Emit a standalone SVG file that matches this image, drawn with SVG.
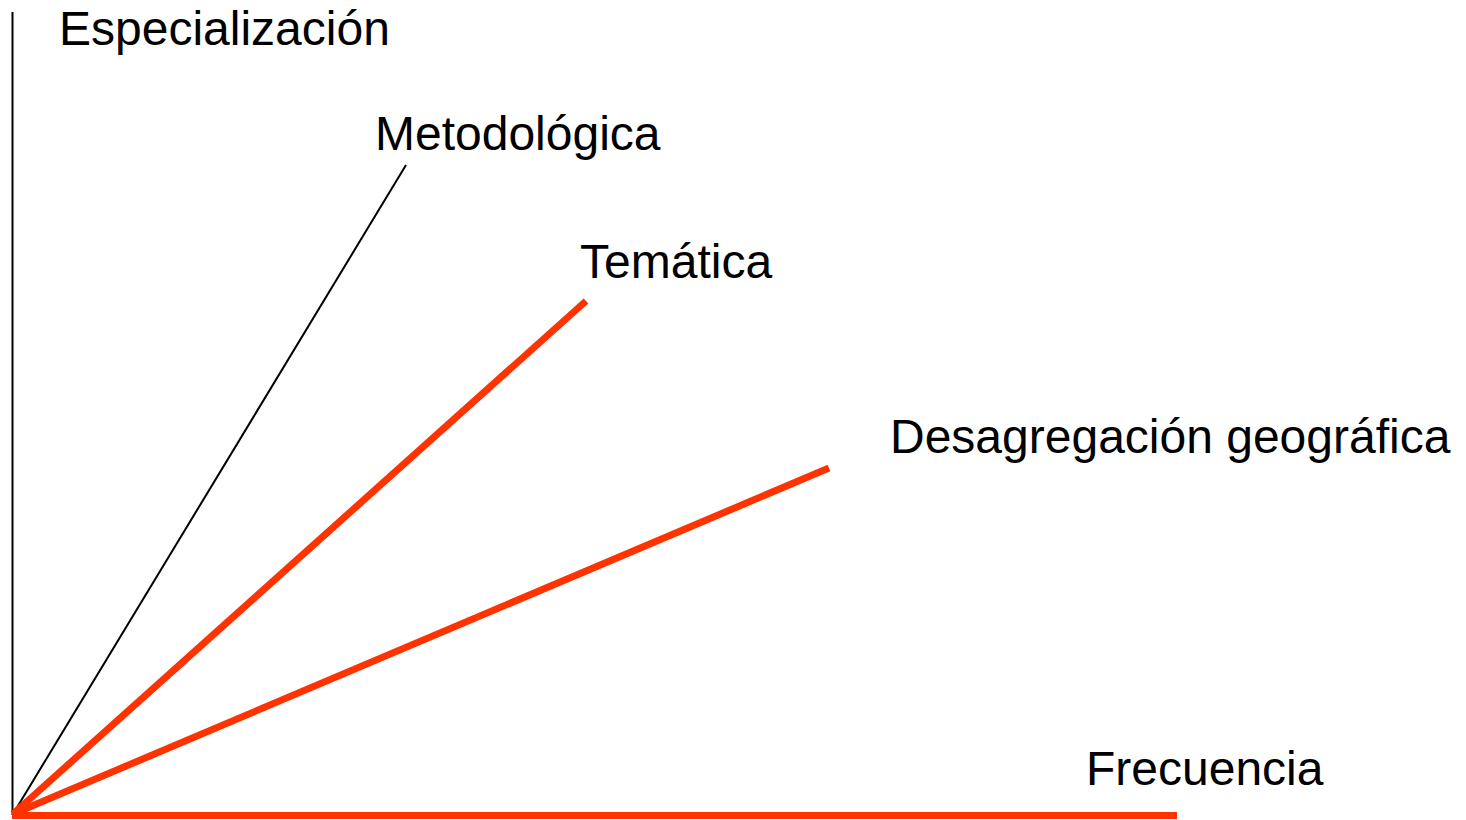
<svg xmlns="http://www.w3.org/2000/svg" width="1466" height="820" viewBox="0 0 1466 820">
<style>
.lbl{font-family:"Liberation Sans",Arial,sans-serif;font-size:48px;fill:#000}
.red{stroke:#FF3300;stroke-width:7;fill:none;stroke-linecap:butt}
.blk{stroke:#000;stroke-width:2;fill:none}
</style>
<rect width="1466" height="820" fill="#fff"/>
<g id="connectors">
<line class="blk" x1="12.5" y1="12" x2="12.5" y2="815"/>
<line class="blk" x1="13" y1="814" x2="406" y2="165"/>
<line class="red" x1="13" y1="814" x2="586" y2="301"/>
<line class="red" x1="13" y1="814" x2="829" y2="468"/>
<line class="red" x1="12" y1="815.5" x2="1177" y2="815.5"/>
</g>
<g id="especializacion"><text class="lbl" x="59" y="45">Especialización</text></g>
<g id="metodologica"><text class="lbl" x="375" y="150">Metodológica</text></g>
<g id="tematica"><text class="lbl" x="580" y="278">Temática</text></g>
<g id="desagregacion"><text class="lbl" x="890" y="453">Desagregación geográfica</text></g>
<g id="frecuencia"><text class="lbl" x="1086" y="785">Frecuencia</text></g>
</svg>
